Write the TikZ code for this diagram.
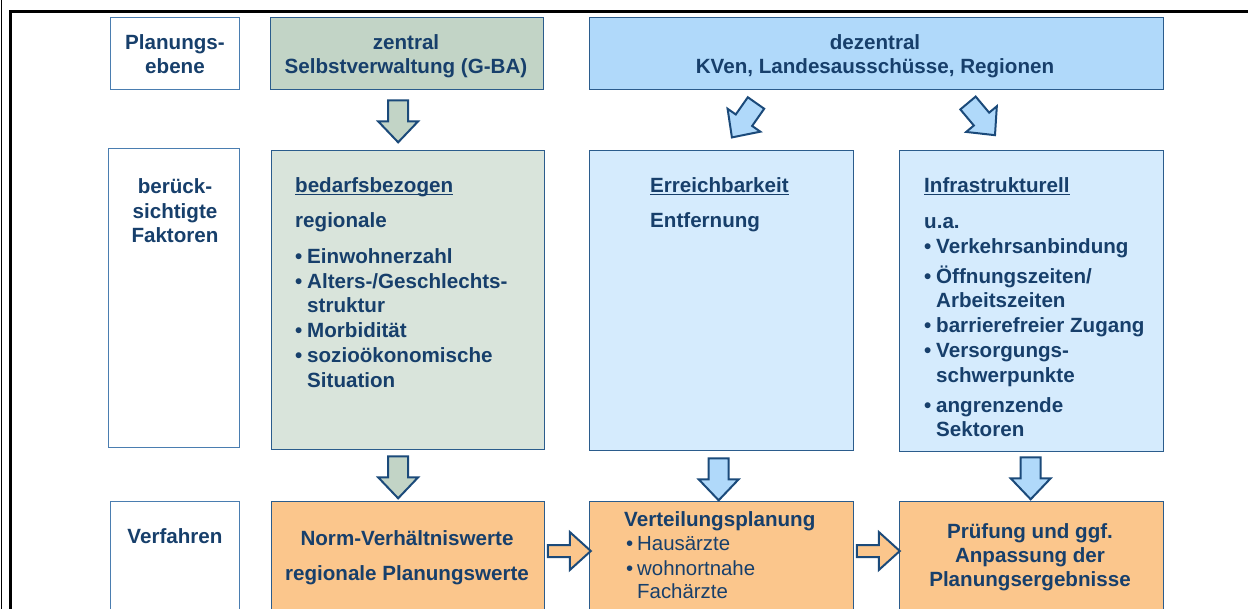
\documentclass[tikz,border=0pt]{standalone}
\usepackage{fontspec}
\setmainfont{Liberation Sans}
\usetikzlibrary{calc}
\definecolor{tc}{HTML}{173F6B}
\definecolor{bc}{HTML}{2B5C8C}
\definecolor{lbc}{HTML}{4A7DB0}
\definecolor{gdark}{HTML}{C2D4C6}
\definecolor{glight}{HTML}{D9E4DB}
\definecolor{bdark}{HTML}{B0D9FA}
\definecolor{blight}{HTML}{D5EBFD}
\definecolor{orng}{HTML}{FBC68C}
\definecolor{arc}{HTML}{1B4A7A}
\tikzset{
  x=1pt, y=-1pt,
  box/.style={draw=bc, line width=1.3pt, rectangle, inner sep=0pt, anchor=north west},
  lblbox/.style={box, draw=lbc, fill=white},
  t/.style={text=tc, inner sep=0pt, font=\bfseries\fontsize{20.6}{24}\selectfont},
  tl/.style={t, anchor=base west},
  tcn/.style={t, anchor=base},
  tn/.style={text=tc, inner sep=0pt, anchor=base west, font=\fontsize{20.4}{24}\selectfont},
  ul/.style={line width=1.6pt, draw=tc},
  blockdown/.pic={\path[pic actions] (-10,0) -- (10,0) -- (10,21) -- (20,21) -- (0,42) -- (-20,21) -- (-10,21) -- cycle;},
  blockright/.pic={\path[pic actions] (0,-6) -- (22,-6) -- (22,-19) -- (43,0) -- (22,19) -- (22,6) -- (0,6) -- cycle;},
  barrow/.style={draw=arc, line width=2pt, line join=miter},
}
\begin{document}
\begin{tikzpicture}
\clip (0,0) rectangle (1248,608);
\fill[white] (0,0) rectangle (1248,608);
% frame
\draw[line width=1.5pt] (1.5,-5) -- (1.5,620);
\draw[line width=2.6pt, line join=miter] (10.2,620) -- (10.2,11.3) -- (1260,11.3);

% row 1
\node[lblbox, minimum width=129pt, minimum height=72pt] (ple) at (110,17) {};
\node[box, fill=gdark, minimum width=273pt, minimum height=72pt] (zen) at (270,17) {};
\node[box, fill=bdark, minimum width=574pt, minimum height=72pt] (dez) at (589,17) {};
\node[tcn] (ple1) at (175,49) {Planungs-};
\node[tcn] (ple2) at (175,73) {ebene};
\node[tcn] (zen1) at (406,49) {zentral};
\node[tcn] (zen2) at (406,73) {Selbstverwaltung (G-BA)};
\node[tcn] (dez1) at (875,49) {dezentral};
\node[tcn] (dez2) at (875,73) {KVen, Landesausschüsse, Regionen};

% row 2
\node[lblbox, minimum width=131pt, minimum height=299pt] (fak) at (108,148) {};
\node[box, fill=glight, minimum width=273pt, minimum height=299pt] (bed) at (271,150) {};
\node[box, fill=blight, minimum width=264pt, minimum height=300pt] (err) at (589,150) {};
\node[box, fill=blight, minimum width=264pt, minimum height=301pt] (inf) at (899,150) {};
\node[tcn] (fak1) at (175,193) {berück-};
\node[tcn] (fak2) at (175,218) {sichtigte};
\node[tcn] (fak3) at (175,242) {Faktoren};

\node[tl] (bedh) at (295,192) {bedarfsbezogen};
\draw[ul] ([yshift=-2.5pt]bedh.base west) -- ([yshift=-2.5pt]bedh.base east);
\node[tl] (bed0) at (295,227) {regionale};
\node[tl] (bedb1) at (295,263) {•};
\node[tl] (bed1) at (307,263) {Einwohnerzahl};
\node[tl] (bedb2) at (295,288) {•};
\node[tl] (bed2) at (307,288) {Alters-/Geschlechts-};
\node[tl] (bed3) at (307,312) {struktur};
\node[tl] (bedb4) at (295,337) {•};
\node[tl] (bed4) at (307,337) {Morbidität};
\node[tl] (bedb5) at (295,362) {•};
\node[tl] (bed5) at (307,362) {sozioökonomische};
\node[tl] (bed6) at (307,387) {Situation};

\node[tl] (errh) at (650,192) {Erreichbarkeit};
\draw[ul] ([yshift=-2.5pt]errh.base west) -- ([yshift=-2.5pt]errh.base east);
\node[tl] (err1) at (650,227) {Entfernung};

\node[tl] (infh) at (924,192) {Infrastrukturell};
\draw[ul] ([yshift=-2.5pt]infh.base west) -- ([yshift=-2.5pt]infh.base east);
\node[tl] (inf0) at (924,228) {u.a.};
\node[tl] (infb1) at (924,253) {•};
\node[tl] (inf1) at (936,253) {Verkehrsanbindung};
\node[tl] (infb2) at (924,283) {•};
\node[tl] (inf2) at (936,283) {Öffnungszeiten/};
\node[tl] (inf3) at (936,307) {Arbeitszeiten};
\node[tl] (infb4) at (924,332) {•};
\node[tl] (inf4) at (936,332) {barrierefreier Zugang};
\node[tl] (infb5) at (924,357) {•};
\node[tl] (inf5) at (936,357) {Versorgungs-};
\node[tl] (inf6) at (936,382) {schwerpunkte};
\node[tl] (infb7) at (924,412) {•};
\node[tl] (inf7) at (936,412) {angrenzende};
\node[tl] (inf8) at (936,436) {Sektoren};

% row 3
\node[lblbox, minimum width=129pt, minimum height=140pt] (ver) at (110,501) {};
\node[box, fill=orng, minimum width=273pt, minimum height=140pt] (nor) at (271,501) {};
\node[box, fill=orng, minimum width=264pt, minimum height=140pt] (vtp) at (589,501) {};
\node[box, fill=orng, minimum width=264pt, minimum height=140pt] (pru) at (899,501) {};
\node[tcn] (ver1) at (175,543) {Verfahren};
\node[tcn] (nor1) at (407,545) {Norm-Verhältniswerte};
\node[tcn] (nor2) at (407,580) {regionale Planungswerte};
\node[tl] (vtp1) at (624,526) {Verteilungsplanung};
\node[tn] (vtpb2) at (626,550) {•};
\node[tn] (vtp2) at (637,550) {Hausärzte};
\node[tn] (vtpb3) at (626,575) {•};
\node[tn] (vtp3) at (637,575) {wohnortnahe};
\node[tn] (vtp4) at (637,598) {Fachärzte};
\node[tcn] (pru1) at (1030,538) {Prüfung und ggf.};
\node[tcn] (pru2) at (1030,562) {Anpassung der};
\node[tcn] (pru3) at (1030,586) {Planungsergebnisse};

% block arrows
\pic[barrow, fill=gdark] at ($(zen.south)+(-9,10)$) {blockdown};
\pic[barrow, fill=bdark, rotate=-35] at (756,103) {blockdown};
\pic[barrow, fill=bdark, rotate=40] at (968,103) {blockdown};
\pic[barrow, fill=gdark] at ($(bed.south)+(-10,6)$) {blockdown};
\pic[barrow, fill=bdark] at ($(err.south)+(-3,7)$) {blockdown};
\pic[barrow, fill=bdark] at ($(inf.south)+(-1,5)$) {blockdown};
\pic[barrow, fill=orng] at ($(nor.north east)+(2.5,50)$) {blockright};
\pic[barrow, fill=orng] at ($(vtp.north east)+(2.5,50)$) {blockright};
\end{tikzpicture}
\end{document}
